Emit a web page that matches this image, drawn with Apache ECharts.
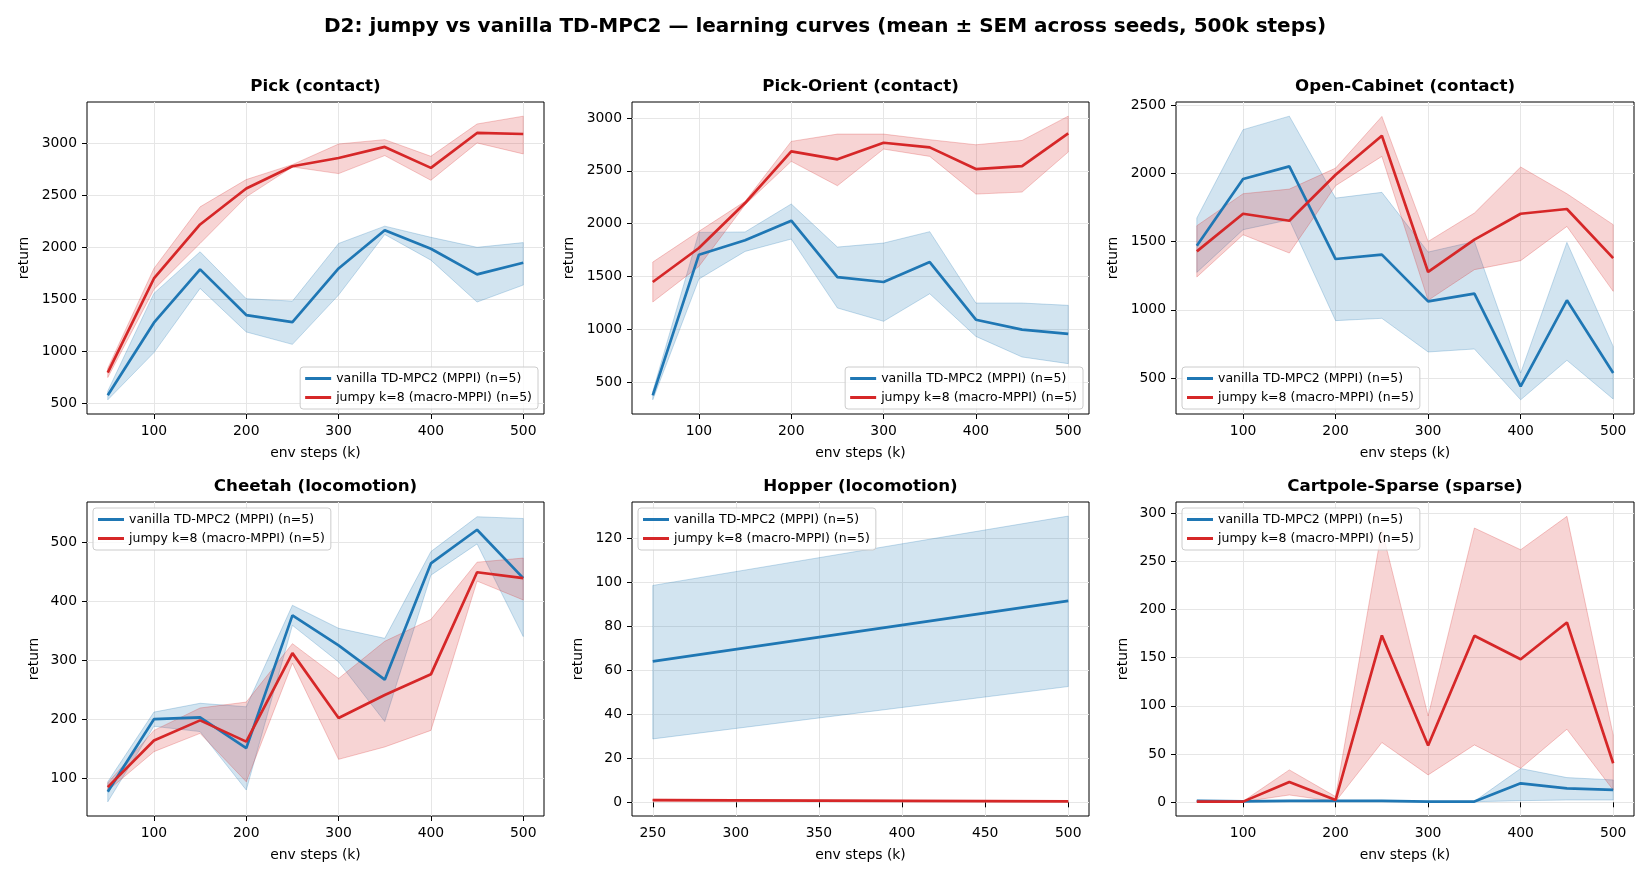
<!DOCTYPE html>
<html>
<head>
<meta charset="utf-8">
<title>D2: jumpy vs vanilla TD-MPC2</title>
<script src="https://cdn.jsdelivr.net/npm/echarts@6/dist/echarts.min.js"></script>
<style>
  html, body { margin: 0; padding: 0; background: #fff; }
  #main { width: 1650px; height: 880px; }
</style>
</head>
<body>
<div id="main"></div>
<script>
// === data ===
const steps = [50, 100, 150, 200, 250, 300, 350, 400, 450, 500];
const hopperSteps = [250, 500];

const xTicks = [100, 200, 300, 400, 500];
const hopperXTicks = [250, 300, 350, 400, 450, 500];
const pickYTicks = [500, 1000, 1500, 2000, 2500, 3000];
const orientYTicks = [500, 1000, 1500, 2000, 2500, 3000];
const cabinetYTicks = [500, 1000, 1500, 2000, 2500];
const cheetahYTicks = [100, 200, 300, 400, 500];
const hopperYTicks = [0, 20, 40, 60, 80, 100, 120];
const cartpoleYTicks = [0, 50, 100, 150, 200, 250, 300];

// Pick (contact)
const pickVanilla   = [580, 1276, 1787, 1349, 1282, 1796, 2163, 1985, 1739, 1851];
const pickVanillaLo = [536, 989, 1605, 1187, 1068, 1541, 2122, 1876, 1474, 1637];
const pickVanillaHi = [620, 1557, 1956, 1506, 1483, 2036, 2202, 2095, 1999, 2044];
const pickJumpy     = [797, 1700, 2218, 2563, 2777, 2856, 2962, 2761, 3096, 3086];
const pickJumpyLo   = [750, 1595, 2036, 2483, 2770, 2706, 2879, 2642, 3000, 2895];
const pickJumpyHi   = [840, 1796, 2387, 2649, 2792, 2990, 3032, 2872, 3182, 3257];

// Pick-Orient (contact)
const orientVanilla   = [374, 1706, 1842, 2028, 1494, 1447, 1636, 1090, 996, 955];
const orientVanillaLo = [332, 1475, 1737, 1854, 1201, 1075, 1336, 932, 737, 674];
const orientVanillaHi = [410, 1917, 1921, 2186, 1778, 1816, 1924, 1248, 1248, 1226];
const orientJumpy     = [1447, 1769, 2195, 2684, 2609, 2766, 2722, 2517, 2545, 2855];
const orientJumpyLo   = [1258, 1595, 2179, 2590, 2359, 2706, 2637, 2280, 2299, 2678];
const orientJumpyHi   = [1636, 1927, 2211, 2779, 2848, 2848, 2795, 2747, 2788, 3018];

// Open-Cabinet (contact)
const cabinetVanilla   = [1471, 1960, 2053, 1373, 1405, 1062, 1119, 439, 1070, 537];
const cabinetVanillaLo = [1275, 1588, 1661, 921, 938, 691, 713, 340, 630, 346];
const cabinetVanillaHi = [1674, 2322, 2421, 1820, 1862, 1424, 1502, 537, 1495, 732];
const cabinetJumpy     = [1429, 1705, 1654, 1991, 2278, 1278, 1515, 1705, 1740, 1380];
const cabinetJumpyLo   = [1241, 1551, 1417, 1911, 2126, 1070, 1295, 1361, 1612, 1136];
const cabinetJumpyHi   = [1617, 1852, 1886, 2040, 2419, 1502, 1710, 2048, 1852, 1625];

// Cheetah (locomotion)
const cheetahVanilla   = [77, 200, 203, 151, 376, 325, 267, 464, 521, 439];
const cheetahVanillaLo = [60, 188, 179, 80, 359, 297, 196, 444, 497, 340];
const cheetahVanillaHi = [94, 212, 227, 221, 393, 354, 337, 484, 543, 540];
const cheetahJumpy     = [85, 164, 198, 162, 312, 202, 241, 276, 449, 439];
const cheetahJumpyLo   = [79, 145, 176, 94, 295, 132, 153, 181, 434, 402];
const cheetahJumpyHi   = [92, 181, 219, 229, 328, 269, 332, 369, 466, 473];

// Hopper (locomotion)
const hopperVanilla   = [64, 91.5];
const hopperVanillaLo = [28.8, 52.6];
const hopperVanillaHi = [98.5, 130];
const hopperJumpy     = [1.0, 0.4];
const hopperJumpyLo   = [0.6, 0.28];
const hopperJumpyHi   = [1.4, 0.5];

// Cartpole-Sparse (sparse)
const cartpoleVanilla   = [1.5, 1.0, 1.5, 1.5, 1.5, 0.8, 0.8, 19.7, 14.5, 12.8];
const cartpoleVanillaLo = [1.0, 0.8, 1.2, 1.2, 1.2, 0.6, 0.6, 1.7, 2.4, 2.4];
const cartpoleVanillaHi = [2.0, 1.3, 1.8, 1.8, 1.8, 1.0, 1.0, 35, 25.6, 23.2];
const cartpoleJumpy     = [0.7, 0.7, 21, 2.4, 173, 58.8, 172.7, 148.4, 186.5, 40.5];
const cartpoleJumpyLo   = [0.6, 0.6, 7.6, 0.8, 62, 28.4, 59.5, 35.3, 75.8, 12.8];
const cartpoleJumpyHi   = [1.2, 1.0, 33.6, 5.9, 282.7, 89.6, 284.4, 261.9, 296.5, 69.9];

const VANILLA = 'vanilla TD-MPC2 (MPPI) (n=5)';
const JUMPY = 'jumpy k=8 (macro-MPPI) (n=5)';
const BLUE = '#1f77b4';
const RED = '#d62728';
const FONT = 'DejaVu Sans';

const tasks = [
  { title: 'Pick (contact)', xs: steps, xTicks: xTicks, yTicks: pickYTicks,
    v: [pickVanilla, pickVanillaLo, pickVanillaHi], j: [pickJumpy, pickJumpyLo, pickJumpyHi] },
  { title: 'Pick-Orient (contact)', xs: steps, xTicks: xTicks, yTicks: orientYTicks,
    v: [orientVanilla, orientVanillaLo, orientVanillaHi], j: [orientJumpy, orientJumpyLo, orientJumpyHi] },
  { title: 'Open-Cabinet (contact)', xs: steps, xTicks: xTicks, yTicks: cabinetYTicks,
    v: [cabinetVanilla, cabinetVanillaLo, cabinetVanillaHi], j: [cabinetJumpy, cabinetJumpyLo, cabinetJumpyHi] },
  { title: 'Cheetah (locomotion)', xs: steps, xTicks: xTicks, yTicks: cheetahYTicks,
    v: [cheetahVanilla, cheetahVanillaLo, cheetahVanillaHi], j: [cheetahJumpy, cheetahJumpyLo, cheetahJumpyHi] },
  { title: 'Hopper (locomotion)', xs: hopperSteps, xTicks: hopperXTicks, yTicks: hopperYTicks,
    v: [hopperVanilla, hopperVanillaLo, hopperVanillaHi], j: [hopperJumpy, hopperJumpyLo, hopperJumpyHi] },
  { title: 'Cartpole-Sparse (sparse)', xs: steps, xTicks: xTicks, yTicks: cartpoleYTicks,
    v: [cartpoleVanilla, cartpoleVanillaLo, cartpoleVanillaHi], j: [cartpoleJumpy, cartpoleJumpyLo, cartpoleJumpyHi] }
];

// === layout (pixels, matches the 3x2 subplot grid) ===
const layout = [
  { left: 87,   top: 102, width: 457, height: 312, x: [27.5, 522.5], y: [400, 3393],  gap: 56, legend: { right: 1112, bottom: 471 } },
  { left: 632,  top: 102, width: 457, height: 312, x: [27.5, 522.5], y: [197, 3152],  gap: 56, legend: { right: 567, bottom: 471 } },
  { left: 1176, top: 102, width: 458, height: 312, x: [27.5, 522.5], y: [236, 2525],  gap: 56, legend: { left: 1182, bottom: 471 } },
  { left: 87,   top: 502, width: 457, height: 314, x: [27.5, 522.5], y: [36, 568],    gap: 46, legend: { left: 93, top: 508 } },
  { left: 632,  top: 502, width: 457, height: 314, x: [237.5, 512.5], y: [-6.2, 136.4], gap: 47, legend: { left: 638, top: 508 } },
  { left: 1176, top: 502, width: 458, height: 314, x: [27.5, 522.5], y: [-14.2, 311.4], gap: 46, legend: { left: 1182, top: 508 } }
];

const axisText = { fontSize: 13.9, color: '#000', fontFamily: FONT };

function bandSeries(idx, xs, lo, hi, rgb) {
  return {
    type: 'custom',
    xAxisIndex: idx,
    yAxisIndex: idx,
    silent: true,
    data: [[xs[0], lo[0]]],
    renderItem: function (params, api) {
      const top = xs.map((x, i) => api.coord([x, hi[i]]));
      const bottom = xs.map((x, i) => api.coord([x, lo[i]])).reverse();
      return {
        type: 'polygon',
        shape: { points: top.concat(bottom) },
        style: { fill: 'rgba(' + rgb + ',0.2)', stroke: 'rgba(' + rgb + ',0.25)', lineWidth: 1 }
      };
    }
  };
}

function lineSeries(idx, name, xs, ys, color) {
  return {
    type: 'line',
    name: name,
    xAxisIndex: idx,
    yAxisIndex: idx,
    data: xs.map((x, i) => [x, ys[i]]),
    showSymbol: false,
    symbol: 'none',
    color: color,
    lineStyle: { color: color, width: 2.7 },
    z: 3
  };
}

const grids = [], xAxes = [], yAxes = [], series = [], legends = [];
const titles = [{
  text: 'D2: jumpy vs vanilla TD-MPC2 — learning curves (mean ± SEM across seeds, 500k steps)',
  left: 825, top: 17, textAlign: 'center', padding: 0,
  textStyle: { fontSize: 20, fontWeight: 'bold', color: '#000', fontFamily: FONT }
}];

tasks.forEach((t, i) => {
  const L = layout[i];
  grids.push({ left: L.left, top: L.top, width: L.width, height: L.height,
    show: true, borderColor: '#000', borderWidth: 1, backgroundColor: 'transparent' });

  xAxes.push({
    type: 'value', gridIndex: i, min: L.x[0], max: L.x[1],
    name: 'env steps (k)', nameLocation: 'middle', nameGap: 32, nameTextStyle: axisText,
    axisLine: { show: false },
    axisTick: { show: true, length: 5, customValues: t.xTicks, lineStyle: { color: '#000', width: 1 } },
    axisLabel: { customValues: t.xTicks, margin: 10, formatter: v => String(v), ...axisText },
    splitLine: { show: true, lineStyle: { color: '#e6e6e6', width: 1 } }
  });
  yAxes.push({
    type: 'value', gridIndex: i, min: L.y[0], max: L.y[1],
    name: 'return', nameLocation: 'middle', nameGap: L.gap, nameTextStyle: axisText,
    axisLine: { show: false },
    axisTick: { show: true, length: 5, customValues: t.yTicks, lineStyle: { color: '#000', width: 1 } },
    axisLabel: { customValues: t.yTicks, margin: 10, formatter: v => String(v), ...axisText },
    splitLine: { show: true, lineStyle: { color: '#e6e6e6', width: 1 } }
  });

  series.push(bandSeries(i, t.xs, t.v[1], t.v[2], '31,119,180'));
  series.push(lineSeries(i, VANILLA, t.xs, t.v[0], BLUE));
  series.push(bandSeries(i, t.xs, t.j[1], t.j[2], '214,39,40'));
  series.push(lineSeries(i, JUMPY, t.xs, t.j[0], RED));

  titles.push({
    text: t.title, left: L.left + L.width / 2, top: L.top - 24, textAlign: 'center', padding: 0,
    textStyle: { fontSize: 16.7, fontWeight: 'bold', color: '#000', fontFamily: FONT }
  });

  legends.push(Object.assign({
    orient: 'vertical',
    data: [VANILLA, JUMPY],
    icon: 'rect',
    itemWidth: 26,
    itemHeight: 3,
    itemGap: 6,
    padding: [5, 6, 5, 5],
    selectedMode: false,
    backgroundColor: 'rgba(255,255,255,0.8)',
    borderColor: '#cccccc',
    borderWidth: 1,
    borderRadius: 3,
    textStyle: { fontSize: 12.5, color: '#000', fontFamily: FONT }
  }, L.legend));
});

const chart = echarts.init(document.getElementById('main'), null, { renderer: 'canvas' });
chart.setOption({
  backgroundColor: '#ffffff',
  animation: false,
  textStyle: { fontFamily: FONT },
  title: titles,
  legend: legends,
  grid: grids,
  xAxis: xAxes,
  yAxis: yAxes,
  series: series
});
</script>
</body>
</html>
